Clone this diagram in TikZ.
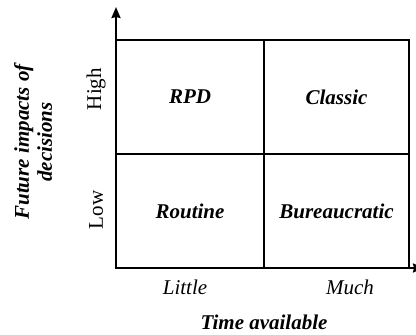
\documentclass[tikz,border=0pt]{standalone}
\usepackage{fontspec}
\setmainfont{Liberation Serif}
\usetikzlibrary{arrows.meta}
\begin{document}
\begin{tikzpicture}[x=1pt,y=-1pt,
  cell/.style={draw,line width=2pt,minimum width=#1,minimum height=114pt,inner sep=0pt,
    font=\fontsize{21}{24}\selectfont\bfseries\itshape},
  lvl/.style={font=\fontsize{21}{24}\selectfont,rotate=90},
  tick/.style={font=\fontsize{21}{24}\selectfont\itshape},
  axtitle/.style={font=\fontsize{21}{23}\selectfont\bfseries\itshape,align=center},
  axis/.style={line width=2pt,-{Stealth[length=11pt,width=9pt,inset=1pt]}}]
\useasboundingbox (0,0) rectangle (416,335);
\node[cell=148pt] (rpd) at (190,97) {RPD};
\node[cell=145pt] (classic) at (336.5,97) {Classic};
\node[cell=148pt] (routine) at (190,211) {Routine};
\node[cell=145pt] (bureau) at (336.5,211) {Bureaucratic};
\coordinate (origin) at (116,268);
\coordinate (ytip) at (116,7);
\coordinate (xtip) at (424,268);
\draw[axis] (origin) -- (ytip);
\draw[axis] (origin) -- (xtip);
\node[lvl] (high) at (96,89) {High};
\node[lvl] (low) at (96,210) {Low};
\node[tick] (little) at (185,287) {Little};
\node[tick] (much) at (350,287) {Much};
\node[axtitle] (xtitle) at (264,322) {Time available};
\node[axtitle,rotate=90] (ytitle) at (33,142) {Future impacts of\\decisions};
\end{tikzpicture}
\end{document}
